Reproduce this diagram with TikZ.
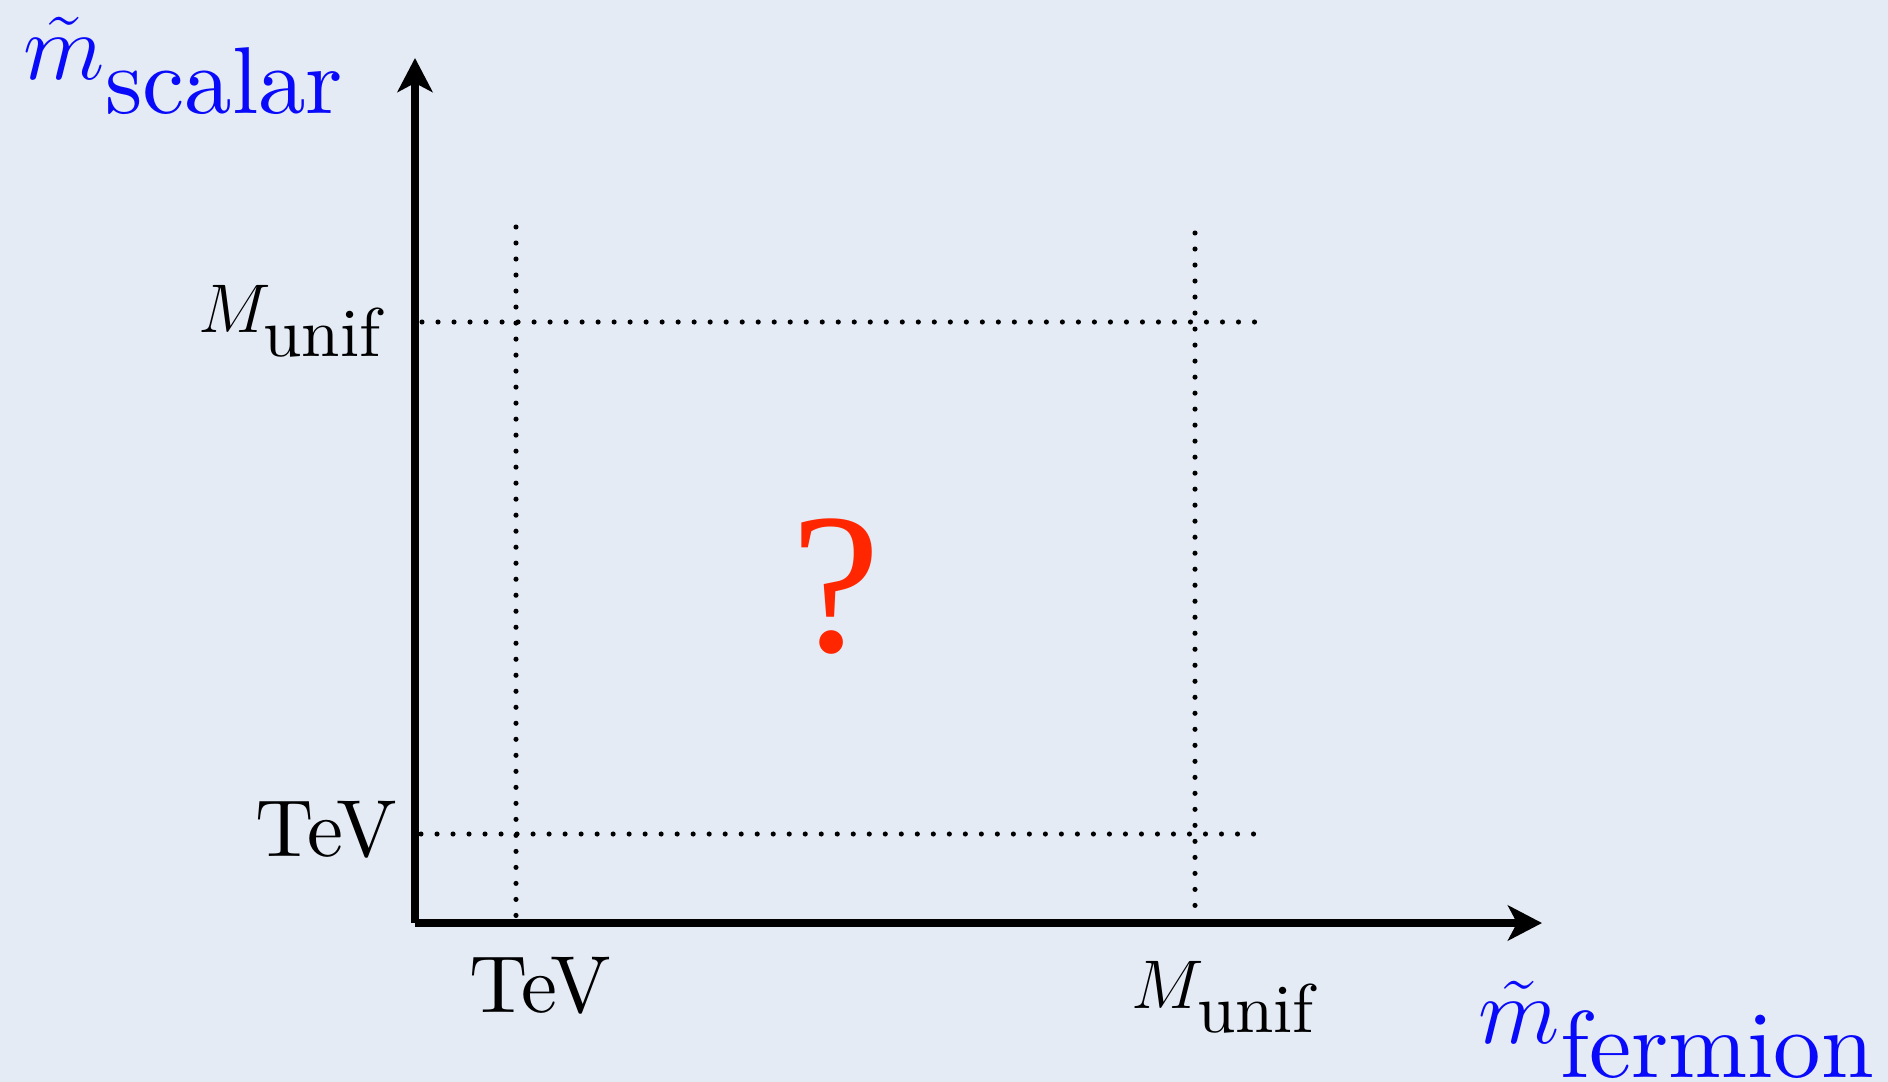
\RequirePackage{fix-cm}
\documentclass[tikz,border=0pt]{standalone}
\usepackage{amsmath}
\usepackage{fontspec}
\setmainfont{lmroman10-regular.otf}
\usepackage{xcolor}
\usepackage{tikz}
\usetikzlibrary{arrows.meta, positioning}

\newfontfamily\qfont{Liberation Serif}
\definecolor{paper}{RGB}{228,235,245}
\definecolor{axblue}{RGB}{10,10,250}
\definecolor{qred}{RGB}{255,38,0}

\begin{document}
\begin{tikzpicture}[
  x=0.01cm, y=-0.01cm,
  axis/.style={-{Stealth[length=0.34cm, width=0.35cm, inset=0.09cm]}, line width=2pt},
  dots/.style={line width=1.45pt, line cap=round, dash pattern=on 0pt off 0.16cm},
  tick/.style={inner sep=0pt, font=\fontsize{23}{27}\selectfont},
  mlab/.style={inner sep=0pt, font=\fontsize{19.6}{24}\selectfont},
  axlab/.style={inner sep=0pt, text=axblue, font=\fontsize{27}{32}\selectfont}
]
% page and paper
\fill[paper] (0,0) rectangle (1888,1082);
\useasboundingbox (0,0) rectangle (1888,1082);

% axes
\coordinate (O) at (415,923);
\coordinate (ytip) at (415,58);
\coordinate (xtip) at (1542,923);
\draw[axis] (O) -- (ytip);
\draw[axis] (O) -- (xtip);

% grid of scales
\coordinate (tevtop) at (516,227);
\coordinate (tevbot) at (516,921);
\coordinate (uniftop) at (1195,233);
\coordinate (unifbot) at (1195,921);
\coordinate (unifleft) at (422,322);
\coordinate (unifright) at (1256,322);
\coordinate (tevleft) at (421,834);
\coordinate (tevright) at (1256,834);
\draw[dots] (tevtop) -- (tevbot);
\draw[dots] (uniftop) -- (unifbot);
\draw[dots] (unifleft) -- (unifright);
\draw[dots] (tevleft) -- (tevright);

% labels
\node[axlab, anchor=base west] (yname) at (23,80) {$\tilde{m}_{\textstyle\mathrm{scalar}}$};
\node[axlab, anchor=base west] (xname) at (1478,1043) {$\tilde{m}_{\textstyle\mathrm{fermion}}$};
\node[mlab, anchor=base east] (yunif) at (383,332) {$M_{\textstyle\mathrm{unif}}$};
\node[tick, anchor=base east] (ytev) at (398,856) {TeV};
\node[tick, anchor=base west] (xtev) at (469,1012) {TeV};
\node[mlab, anchor=base west] (xunif) at (1131,1008) {$M_{\textstyle\mathrm{unif}}$};
\node[inner sep=0pt, anchor=base, text=qred, font=\qfont\fontsize{57}{60}\selectfont] (quest) at (836,651) {?};
\end{tikzpicture}
\end{document}
